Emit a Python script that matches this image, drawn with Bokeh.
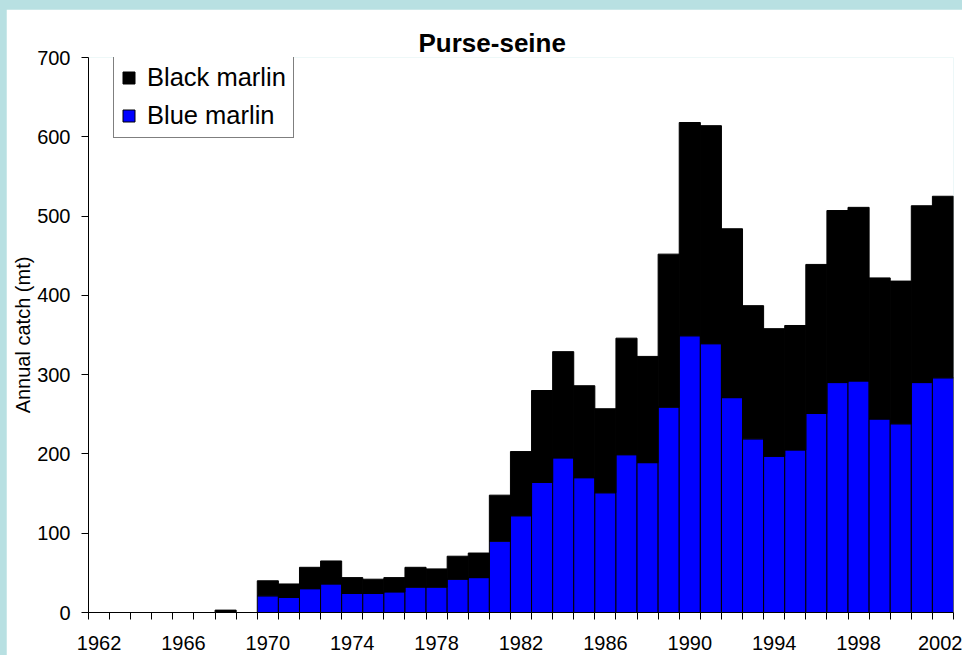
from bokeh.plotting import figure
from bokeh.models import (Range1d, FixedTicker, Legend, LegendItem,
                          GlobalInlineStyleSheet, ColumnDataSource)
from bokeh.embed import file_html
from bokeh.resources import INLINE

# ---- data ----
years = list(range(1962, 2003))
blue_marlin = [0, 0, 0, 0, 0, 0, 0, 0,
               21, 19, 30, 36, 24, 24, 26, 32, 32, 42, 44,
               90, 122, 164, 195, 170, 151, 199, 189, 259,
               349, 339, 271, 219, 197, 205, 251, 290, 292,
               244, 238, 290, 296]
black_marlin = [0, 0, 0, 0, 0, 0, 3, 0,
                19, 17, 27, 29, 20, 18, 18, 25, 23, 29, 31,
                58, 81, 116, 134, 116, 106, 147, 134, 193,
                269, 275, 213, 168, 161, 157, 188, 217, 219,
                178, 180, 223, 229]
tick_years = [1962, 1966, 1970, 1974, 1978, 1982, 1986, 1990, 1994, 1998, 2002]
y_ticks = [0, 100, 200, 300, 400, 500, 600, 700]
series_names = ["Black marlin", "Blue marlin"]
title_text = "Purse-seine"
y_label = "Annual catch (mt)"

FONT = "Liberation Sans"

src = ColumnDataSource(dict(year=years, blue=blue_marlin, black=black_marlin))

p = figure(width=956, height=646, output_backend="svg", toolbar_location=None,
           x_range=Range1d(years[0] - 0.5, years[-1] + 0.5),
           y_range=Range1d(0, 700),
           min_border_left=82, min_border_right=9, min_border_top=48,
           min_border_bottom=43)

p.stylesheets = [GlobalInlineStyleSheet(
    css="html, body { margin: 0 !important; background-color: #b8e0e2 !important;"
        " overflow: hidden !important; }"
        " body { padding: 9px 0 0 6px !important; box-sizing: border-box; }")]

p.background_fill_color = "white"
p.border_fill_color = "white"
p.outline_line_color = None
p.xgrid.visible = False
p.ygrid.visible = False

renderers = p.vbar_stack(["blue", "black"], x="year", width=1.0, source=src,
                         color=["#0000ff", "#000000"],
                         line_color="black", line_width=1)

# title
p.title.text = title_text
p.title.align = "left"
p.title.offset = 330
p.title.standoff = 0
p.title.text_font = FONT
p.title.text_font_size = "26px"
p.title.text_font_style = "bold"
p.title.text_color = "black"

# x axis
xa = p.xaxis[0]
xa.ticker = FixedTicker(ticks=tick_years,
                        minor_ticks=[y - 0.5 for y in years] + [years[-1] + 0.5])
xa.major_tick_out = 0
xa.major_tick_in = 0
xa.minor_tick_out = 7
xa.minor_tick_in = 0
xa.minor_tick_line_color = "black"
xa.axis_line_color = "black"
xa.major_label_text_font = FONT
xa.major_label_text_font_size = "20px"
xa.major_label_text_color = "black"
xa.major_label_standoff = 16

# y axis
ya = p.yaxis[0]
ya.ticker = FixedTicker(ticks=y_ticks)
ya.major_tick_out = 7
ya.major_tick_in = 0
ya.minor_tick_line_color = None
ya.axis_line_color = "black"
ya.major_tick_line_color = "black"
ya.major_label_text_font = FONT
ya.major_label_text_font_size = "20px"
ya.major_label_text_color = "black"
ya.major_label_standoff = 11
ya.axis_label = y_label
ya.axis_label_text_font = FONT
ya.axis_label_text_font_size = "20px"
ya.axis_label_text_font_style = "normal"
ya.axis_label_text_color = "black"
ya.axis_label_standoff = 0

legend = Legend(items=[LegendItem(label=series_names[0], renderers=[renderers[1]]),
                       LegendItem(label=series_names[1], renderers=[renderers[0]])],
                location=(25, 474))
legend.label_text_font = FONT
legend.label_text_font_size = "25.5px"
legend.label_text_color = "black"
legend.glyph_width = 15
legend.glyph_height = 15
legend.label_standoff = 11
legend.label_height = 30
legend.spacing = 8
legend.padding = 7
legend.margin = 0
legend.border_line_color = "black"
legend.border_line_width = 1
legend.background_fill_color = "white"
legend.background_fill_alpha = 1.0
p.add_layout(legend, "center")

open("out.html", "w").write(file_html(p, INLINE))
